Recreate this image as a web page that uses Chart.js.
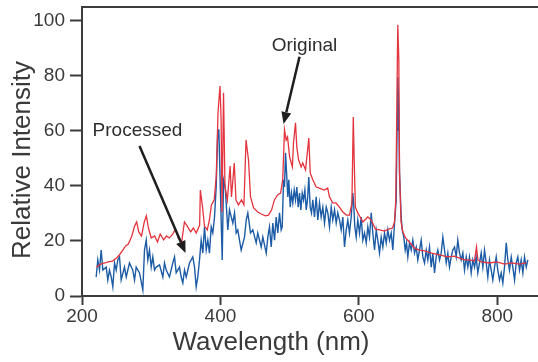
<!DOCTYPE html>
<html>
<head>
<meta charset="utf-8">
<script src="https://cdn.jsdelivr.net/npm/chart.js@4.4.0/dist/chart.umd.min.js"></script>
<style>
  html, body { margin: 0; padding: 0; background: #fff; }
  #wrap { width: 538px; height: 362px; }
</style>
</head>
<body>
<div id="wrap"><canvas id="spectrumChart" width="538" height="362"></canvas></div>
<script>
// Original spectrum (red)
const origWl = [
  221, 227, 233, 238, 244, 250, 254, 259, 263, 267,
  272, 276, 279, 282, 286, 290, 293, 296, 300, 305,
  309, 313, 318, 322, 326, 331, 335, 339, 344, 348,
  352, 357, 361, 365, 370, 371, 374, 377, 381, 384,
  387, 391, 394, 396.5, 399.4, 401, 402.3, 404.5, 406.6, 410,
  414, 416, 420, 422.5, 426, 430.5, 434, 437, 440.6, 443.5,
  448, 454, 459, 465, 469.5, 474, 478, 482.5, 487, 490,
  492.6, 495, 497, 500, 504, 505.6, 508.5, 510.4, 513, 516.7,
  519, 523, 526, 527.7, 529.8, 533.5, 538.4, 543, 550, 555,
  557.6, 562.4, 567, 572, 577, 582, 586.5, 590, 592, 593.3,
  595, 598.5, 606, 613, 618, 624, 630, 637, 643, 648.7,
  651.6, 653.4, 655, 656.3, 657.8, 658.8, 661, 663.6, 667.5, 673,
  680.5, 687.7, 695, 705, 716.6, 728, 738, 745.5, 752.7, 760,
  767, 770, 772, 777, 789, 799, 810.5, 820.6, 832, 842
];
const origInt = [
  10.5, 11.6, 12.0, 12.4, 12.7, 13.8, 14.9, 16.7, 18.2, 18.9,
  21.8, 25.4, 26.9, 23.3, 21.8, 26.9, 29.1, 24.7, 21.1, 21.8,
  19.6, 22.5, 20.4, 21.8, 21.1, 22.5, 24.3, 21.1, 19.6, 26.9,
  25.4, 23.3, 24.7, 22.9, 25.8, 38.5, 32.7, 25.4, 24.0, 27.6,
  33.1, 34.9, 43.6, 66.5, 76.3, 64.0, 30.5, 73.8, 39.6, 34.9,
  47.2, 36.0, 48.3, 34.9, 33.1, 34.9, 33.1, 56.7, 49.4, 36.0,
  32.0, 30.5, 29.8, 29.1, 29.4, 31.3, 34.9, 36.7, 37.4, 42.2,
  60.3, 56.7, 57.8, 50.5, 46.9, 55.6, 62.9, 54.1, 49.4, 46.9,
  48.3, 45.8, 53.1, 57.4, 44.7, 42.2, 39.6, 39.2, 38.5, 39.2,
  36.0, 33.8, 33.8, 32.3, 30.5, 29.4, 29.4, 33.8, 65.0, 49.4,
  32.3, 30.2, 26.9, 28.7, 27.6, 24.3, 24.0, 23.6, 24.3, 24.7,
  26.9, 34.9, 71.2, 98.5, 85.8, 45.1, 26.9, 23.3, 21.1, 19.6,
  17.4, 16.7, 16.4, 15.6, 14.9, 14.2, 14.5, 13.8, 13.1, 13.1,
  12.7, 17.8, 13.1, 12.4, 12.0, 12.4, 11.6, 12.0, 11.6, 12.0
];

// Processed spectrum (blue)
const procWl = [
  220.5, 222.8, 225.3, 227.7, 230.1, 235, 237.3, 239.7, 242.2, 244.5,
  247, 249.4, 251.7, 254.2, 256.6, 261.4, 263.9, 268.6, 273.4, 275.9,
  278.3, 283.1, 287.9, 290.3, 292.8, 295.1, 297.5, 300, 302.3, 304.8,
  307.2, 312, 316.8, 319.2, 321.7, 326.4, 331.2, 333.7, 336.1, 340.9,
  343.3, 345.7, 348.1, 350.6, 355.3, 360.1, 362.6, 365, 367.3, 369.8,
  372.2, 374.6, 377, 379.5, 381.8, 384.2, 386.7, 389, 391.5, 393.9,
  396.2, 397.7, 401.1, 402.6, 404.5, 406.9, 410.7, 413.1, 417.9, 420.4,
  422.8, 425.1, 430, 434.8, 437.3, 439.6, 443.5, 446.8, 451.7, 454,
  458.9, 461.3, 466.2, 468.5, 470.9, 473.4, 475.7, 478.2, 480.6, 482.9,
  485.4, 487.8, 489.3, 491.2, 492.6, 494.1, 495.9, 497.4, 498.8, 500.9,
  502.7, 504.6, 506.6, 508.5, 510.4, 512.4, 514.3, 516.2, 518.2, 520.1,
  522, 524, 525.8, 527.7, 529.7, 531.6, 533.5, 535.9, 538.4, 540.7,
  543.2, 545.6, 548, 550.4, 552.9, 555.2, 557.6, 560.1, 562.4, 564.9,
  567.3, 569.6, 572.1, 574.5, 576.9, 579.3, 581.8, 584.1, 586.5, 589,
  591.3, 592.8, 594.2, 596.2, 598.5, 601, 603.4, 605.8, 608.2, 610.7,
  613, 615.4, 617.9, 620.2, 622.7, 625.1, 627.4, 629.9, 632.3, 634.7,
  637.1, 639.6, 641.9, 644.3, 646.8, 649.1, 651.6, 654, 655.2, 656.3,
  657.8, 658.8, 661.2, 662.7, 665, 667, 668.9, 670.8, 673.2, 675.7,
  678, 680.5, 682.9, 685.2, 687.7, 690.1, 692.5, 694.9, 697.4, 699.7,
  702.1, 704.6, 706.9, 709.4, 711.8, 714.1, 716.6, 719, 721.4, 723.8,
  726.3, 728.6, 731, 733.5, 735.8, 738.3, 740.7, 743, 745.5, 747.9,
  750.3, 752.7, 755.2, 757.5, 759.9, 762.4, 764.7, 767.2, 769.6, 771.9,
  774.4, 776.8, 779.2, 781.6, 784.1, 786.4, 788.8, 791.3, 793.6, 796.1,
  798.5, 800.8, 803.3, 805.7, 808.1, 810.5, 813, 815.3, 817.7, 820.2,
  822.5, 825, 827.4, 829.7, 832.2, 834.6, 837, 839.4, 841.9, 844.2
];
const procInt = [
  6.9, 13.1, 9.4, 16.7, 9.4, 10.5, 5.8, 9.4, 6.9, 3.3,
  12.0, 9.4, 13.1, 14.2, 5.8, 10.5, 6.9, 12.0, 9.4, 5.8,
  10.5, 8.4, 2.2, 16.7, 20.3, 13.1, 16.7, 10.5, 14.2, 9.4,
  10.5, 11.3, 6.9, 12.0, 9.4, 6.9, 12.0, 14.2, 8.4, 10.5,
  6.9, 4.7, 9.4, 6.9, 12.0, 14.2, 10.5, 3.3, 6.9, 13.1,
  20.3, 15.6, 25.1, 16.7, 20.3, 15.6, 25.1, 22.9, 28.7, 39.6,
  60.3, 60.3, 27.6, 13.1, 42.2, 39.6, 24.0, 31.3, 26.5, 30.2,
  22.9, 24.0, 16.7, 21.4, 27.6, 30.2, 22.9, 24.0, 19.3, 22.9,
  17.8, 21.4, 15.6, 21.4, 25.1, 17.8, 26.5, 20.3, 28.7, 22.9,
  30.2, 24.0, 25.1, 42.2, 39.6, 52.0, 43.2, 36.0, 42.2, 32.3,
  37.4, 33.8, 38.5, 34.9, 39.6, 32.3, 37.4, 31.3, 37.4, 34.9,
  38.5, 31.3, 34.9, 43.2, 32.3, 30.2, 34.9, 28.7, 36.0, 27.6,
  33.8, 28.7, 32.3, 26.5, 32.3, 30.2, 25.1, 32.3, 27.6, 31.3,
  26.5, 30.2, 27.6, 24.0, 28.7, 17.8, 24.0, 27.6, 22.9, 28.7,
  37.4, 32.3, 25.1, 21.4, 27.6, 22.9, 28.7, 20.3, 22.9, 19.3,
  25.1, 21.4, 30.2, 22.9, 16.7, 24.0, 20.3, 15.6, 21.4, 17.8,
  22.9, 19.3, 24.0, 20.3, 22.9, 16.7, 26.5, 34.9, 60.3, 79.6,
  67.6, 44.7, 28.7, 24.0, 21.4, 16.7, 19.3, 14.2, 19.3, 16.7,
  20.3, 15.6, 17.8, 13.1, 16.7, 20.3, 14.2, 12.0, 16.7, 13.1,
  17.8, 10.5, 15.6, 8.4, 14.2, 16.7, 13.1, 15.6, 21.4, 16.7,
  12.0, 15.6, 10.5, 14.2, 16.7, 17.8, 14.2, 20.3, 15.6, 13.1,
  15.6, 9.4, 14.2, 10.5, 14.2, 8.4, 13.1, 10.5, 14.2, 8.4,
  12.0, 15.6, 10.5, 16.7, 12.0, 6.9, 13.1, 9.4, 5.8, 10.5,
  14.2, 9.4, 5.8, 8.4, 4.7, 10.5, 19.3, 13.1, 9.4, 14.2,
  10.5, 5.8, 12.0, 14.2, 9.4, 13.1, 8.4, 14.2, 10.5, 13.1
];

const xTicks = [200, 400, 600, 800];
const yTicks = [0, 20, 40, 60, 80, 100];

// callouts, anchored in data units
const notes = [
  { text: 'Original', at: [521.5, 90.9], from: [514.3, 86.9], to: [491.2, 62.5] },
  { text: 'Processed', at: [280.2, 60.0], from: [283.1, 54.5], to: [349.6, 15.6] }
];

const FONT = '"Liberation Sans", Arial, Helvetica, sans-serif';
const INK = '#3a3a3a';
const AXIS = '#3c3c3c';

function toPoints(xs, ys) {
    return xs.map((v, i) => ({ x: v, y: ys[i] }));
}

const overlay = {
    id: 'overlay',
    afterDraw(chart) {
        const { ctx, chartArea: a, scales: { x, y } } = chart;
        ctx.save();

        // frame: top line and axis line run to the right edge
        ctx.strokeStyle = AXIS;
        ctx.lineWidth = 2;
        ctx.beginPath();
        ctx.moveTo(a.left - 1, a.top);
        ctx.lineTo(chart.width, a.top);
        ctx.moveTo(a.right, a.bottom);
        ctx.lineTo(chart.width, a.bottom);
        ctx.stroke();

        // axis titles
        ctx.fillStyle = INK;
        ctx.font = '26px ' + FONT;
        ctx.textAlign = 'center';
        ctx.textBaseline = 'middle';
        ctx.fillText('Wavelength (nm)', 271, 343);
        ctx.save();
        ctx.translate(23, 160);
        ctx.rotate(-Math.PI / 2);
        ctx.fillText('Relative Intensity', 0, 0);
        ctx.restore();

        // callouts with arrows
        ctx.font = '19px ' + FONT;
        ctx.fillStyle = '#2e2e2e';
        notes.forEach(n => {
            ctx.fillText(n.text, x.getPixelForValue(n.at[0]), y.getPixelForValue(n.at[1]));
        });
        ctx.strokeStyle = '#1e1e1e';
        ctx.fillStyle = '#1e1e1e';
        ctx.lineWidth = 2.5;
        notes.forEach(n => {
            const x0 = x.getPixelForValue(n.from[0]), y0 = y.getPixelForValue(n.from[1]);
            const x1 = x.getPixelForValue(n.to[0]), y1 = y.getPixelForValue(n.to[1]);
            const ang = Math.atan2(y1 - y0, x1 - x0);
            const head = 12, half = 5;
            const bx = x1 - head * Math.cos(ang), by = y1 - head * Math.sin(ang);
            ctx.beginPath();
            ctx.moveTo(x0, y0);
            ctx.lineTo(bx, by);
            ctx.stroke();
            ctx.beginPath();
            ctx.moveTo(x1, y1);
            ctx.lineTo(bx + half * Math.sin(ang), by - half * Math.cos(ang));
            ctx.lineTo(bx - half * Math.sin(ang), by + half * Math.cos(ang));
            ctx.closePath();
            ctx.fill();
        });
        ctx.restore();
    }
};

new Chart(document.getElementById('spectrumChart'), {
    type: 'line',
    data: {
        datasets: [{
            label: 'Original',
            data: toPoints(origWl, origInt),
            borderColor: 'rgb(228, 52, 62)',
            borderWidth: 1.3,
            pointRadius: 0,
            tension: 0
        }, {
            label: 'Processed',
            data: toPoints(procWl, procInt),
            borderColor: 'rgb(28, 92, 166)',
            borderWidth: 1.4,
            pointRadius: 0,
            tension: 0
        }]
    },
    options: {
        responsive: false,
        animation: false,
        layout: { padding: { top: 7, right: 2, left: 0, bottom: 0 } },
        plugins: { legend: { display: false }, tooltip: { enabled: false } },
        scales: {
            x: {
                type: 'linear',
                min: 200,
                max: 856,
                afterBuildTicks: s => { s.ticks = xTicks.map(v => ({ value: v })); },
                afterFit: s => { s.height = 66; s.paddingLeft = 0; s.paddingRight = 0; },
                border: { color: AXIS, width: 2 },
                grid: { drawOnChartArea: false, tickLength: 9, tickWidth: 2, tickColor: AXIS },
                ticks: { color: INK, padding: 0, maxRotation: 0, font: { size: 19, family: FONT } }
            },
            y: {
                min: 0,
                max: 105,
                afterBuildTicks: s => { s.ticks = yTicks.map(v => ({ value: v })); },
                afterFit: s => { s.width = 82; s.paddingTop = 0; s.paddingBottom = 0; },
                border: { color: AXIS, width: 2 },
                grid: { drawOnChartArea: false, tickLength: 12, tickWidth: 2, tickColor: AXIS },
                ticks: { color: INK, padding: 5, font: { size: 19, family: FONT } }
            }
        }
    },
    plugins: [overlay]
});
</script>
</body>
</html>
